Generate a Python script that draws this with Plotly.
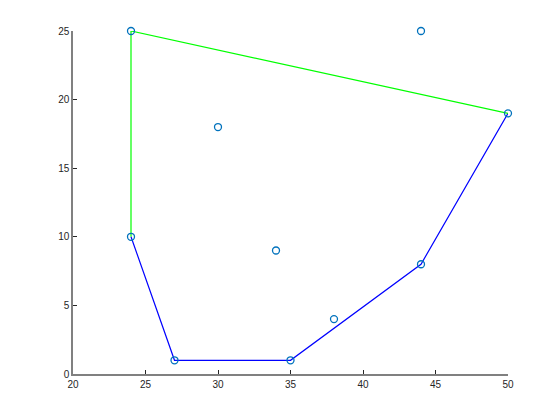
import plotly.graph_objects as go

pts_x = [24, 44, 30, 50, 24, 34, 44, 38, 27, 35]
pts_y = [25, 25, 18, 19, 10, 9, 8, 4, 1, 1]

lower_x = [24, 27, 35, 44, 50]
lower_y = [10, 1, 1, 8, 19]

upper_x = [24, 24, 50]
upper_y = [10, 25, 19]

x_ticks = [20, 25, 30, 35, 40, 45, 50]
y_ticks = [0, 5, 10, 15, 20, 25]

fig = go.Figure()
fig.add_trace(go.Scatter(x=lower_x, y=lower_y, mode="lines", cliponaxis=False,
                         line=dict(color="#0000ff", width=1.2), hoverinfo="skip"))
fig.add_trace(go.Scatter(x=upper_x, y=upper_y, mode="lines", cliponaxis=False,
                         line=dict(color="#00ff00", width=1.2), hoverinfo="skip"))
fig.add_trace(go.Scatter(x=pts_x, y=pts_y, mode="markers", cliponaxis=False,
                         marker=dict(symbol="circle-open", size=7, color="#0072BD",
                                     line=dict(width=1.3, color="#0072BD"))))

axis_common = dict(showgrid=False, zeroline=False, showline=True, linecolor="#808080",
                   linewidth=1.5, ticks="inside", ticklen=4, tickcolor="#262626",
                   tickwidth=1, tickfont=dict(family="Liberation Sans, Arial", size=10, color="#262626"))

fig.update_layout(
    width=560, height=420,
    margin=dict(l=65, r=60, t=23, b=54),
    paper_bgcolor="white", plot_bgcolor="white",
    showlegend=False,
    xaxis=dict(range=[20, 50], tickvals=x_ticks, **axis_common),
    yaxis=dict(range=[0, 25], tickvals=y_ticks, **axis_common),
)
fig.write_html("out.html")
